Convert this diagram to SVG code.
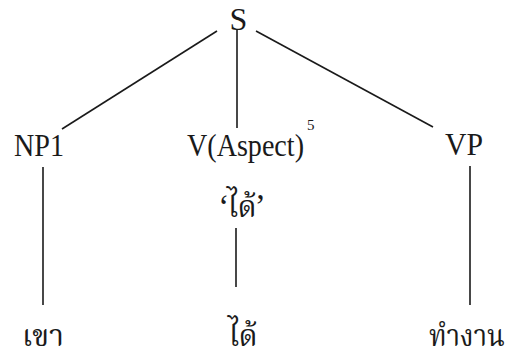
<svg xmlns="http://www.w3.org/2000/svg" width="507" height="349" viewBox="0 0 507 349">
<style>
.lbl{font-family:"Liberation Serif","Times New Roman",serif;font-size:32px;fill:#1a1a1a}
.sup{font-family:"Liberation Serif","Times New Roman",serif;font-size:15px;fill:#1a1a1a}
.th{font-family:"Noto Serif Thai","Noto Sans Thai","Noto Sans",sans-serif;font-size:30px;fill:#1a1a1a}
.edge{stroke:#1a1a1a;stroke-width:1.6;fill:none}
</style>
<rect width="507" height="349" fill="#ffffff"/>
<g id="connectors">
<line class="edge" x1="217" y1="31" x2="62" y2="129"/>
<line class="edge" x1="237" y1="30" x2="237" y2="128"/>
<line class="edge" x1="256" y1="31" x2="433" y2="127"/>
<line class="edge" x1="43" y1="167" x2="43" y2="305"/>
<line class="edge" x1="236" y1="228" x2="236" y2="287"/>
<line class="edge" x1="470" y1="166" x2="470" y2="305"/>
</g>
<g id="node-S"><text class="lbl" x="238.5" y="30" text-anchor="middle">S</text></g>
<g id="node-NP1"><text class="lbl" x="14" y="156" textLength="50" lengthAdjust="spacingAndGlyphs">NP1</text></g>
<g id="node-V"><text class="lbl" x="187" y="156" textLength="117" lengthAdjust="spacingAndGlyphs">V(Aspect)</text><text class="sup" x="307" y="130">5</text></g>
<g id="node-VP"><text class="lbl" x="445" y="155" textLength="38" lengthAdjust="spacingAndGlyphs">VP</text></g>
<g id="node-dai-gloss"><text class="th" x="242" y="217" text-anchor="middle">‘ได้’</text></g>
<g id="node-khao"><text class="th" x="43" y="346" text-anchor="middle">เขา</text></g>
<g id="node-dai"><text class="th" x="243" y="346" text-anchor="middle">ได้</text></g>
<g id="node-thamngan"><text class="th" x="467" y="346" text-anchor="middle" textLength="76" lengthAdjust="spacingAndGlyphs">ทำงาน</text></g>
</svg>
